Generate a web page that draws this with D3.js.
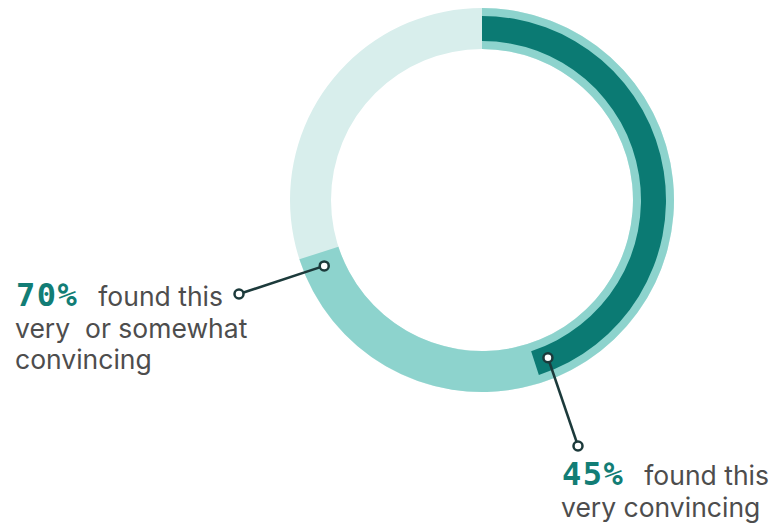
<!DOCTYPE html>
<html>
<head>
<meta charset="utf-8">
<script src="https://cdn.jsdelivr.net/npm/d3@7"></script>
<style>
  body { margin: 0; background: #fff; }
  svg { display: block; }
  .lbl { font-family: Inter, "Open Sans", sans-serif; font-size: 26.5px; fill: #4d4d4d; white-space: pre; }
  .pct { font-family: "DejaVu Sans Mono", monospace; font-weight: bold; font-size: 32px; letter-spacing: 1.5px; fill: #127d75; }
</style>
</head>
<body>
<script>
// shares of respondents (percent)
var shares = [70, 45];
var pctLabels = ["70%", "45%"];
var lineOne = ["found this", "found this"];
var restLines = [["very  or somewhat", "convincing"], ["very convincing"]];

var width = 784, height = 524;
var cx = 482, cy = 200;
var outerR = 192, innerR = 151;
//the dark ring sits inside the medium one
var darkOuter = 184, darkInner = 159;
var dotR = 171;

var angle = d3.scaleLinear().domain([0, 100]).range([0, 2 * Math.PI]);

var svg = d3.select("body").append("svg").attr("width", width).attr("height", height);
var g = svg.append("g").attr("transform", "translate(" + cx + "," + cy + ")");

//background ring
g.append("path")
    .attr("d", d3.arc().innerRadius(innerR).outerRadius(outerR).startAngle(0).endAngle(angle(100))())
    .attr("fill", "#d8eeec");

//70% arc
g.append("path")
    .attr("d", d3.arc().innerRadius(innerR).outerRadius(outerR).startAngle(0).endAngle(angle(shares[0]))())
    .attr("fill", "#8dd3cd");

//45% arc
g.append("path")
    .attr("d", d3.arc().innerRadius(darkInner).outerRadius(darkOuter).startAngle(0).endAngle(angle(shares[1]))())
    .attr("fill", "#0b7a73");

//label blocks
var blocks = [
    { x: 16, y: 306, end: [239, 294] },
    { x: 562, y: 485, end: [578, 446] }
];
var lineH = 31.5;

shares.forEach(function (v, i) {
    var a = angle(v - 1.3);
    var p = [cx + dotR * Math.sin(a), cy - dotR * Math.cos(a)];
    var b = blocks[i];
    svg.append("line")
        .attr("x1", p[0]).attr("y1", p[1])
        .attr("x2", b.end[0]).attr("y2", b.end[1])
        .attr("stroke", "#1c3a3b").attr("stroke-width", 2.5);
    [p, b.end].forEach(function (q) {
        svg.append("circle").attr("cx", q[0]).attr("cy", q[1]).attr("r", 4.5)
            .attr("fill", "#fff").attr("stroke", "#1c3a3b").attr("stroke-width", 2.5);
    });

    var t = svg.append("text").attr("class", "lbl").attr("x", b.x).attr("y", b.y);
    t.append("tspan").attr("class", "pct").text(pctLabels[i]);
    t.append("tspan").attr("dx", 20).text(lineOne[i]);
    restLines[i].forEach(function (s, k) {
        svg.append("text").attr("class", "lbl")
            .attr("x", b.x - 1).attr("y", b.y + lineH * (k + 1)).text(s);
    });
});
</script>
</body>
</html>
